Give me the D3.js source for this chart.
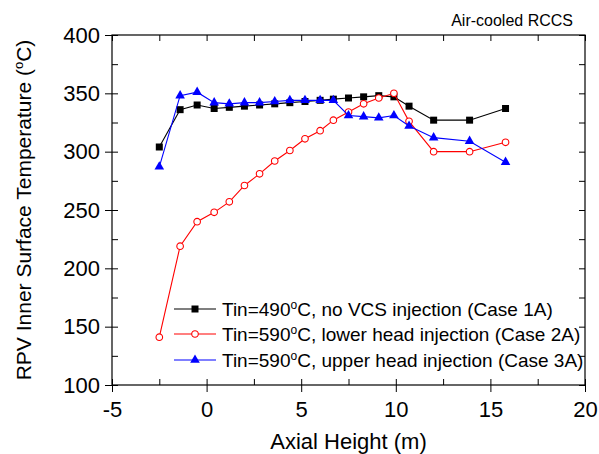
<!DOCTYPE html>
<html>
<head>
<meta charset="utf-8">
<script src="https://cdn.jsdelivr.net/npm/d3@7"></script>
<style>
	body { margin: 0; background: #fff; }
	svg { display: block; font-family: "Liberation Sans", Arial, sans-serif; }
</style>
</head>
<body>
<div id="chart"></div>
<script>
// axial positions (m), shared by all three cases
var heights = [-2.5, -1.4, -0.5, 0.4, 1.2, 2.0, 2.8, 3.6, 4.4, 5.2, 6.0, 6.7, 7.5, 8.3, 9.1, 9.9, 10.7, 12.0, 13.9, 15.8];

// RPV inner surface temperature (C)
var case1A = [304, 336, 340, 337, 338, 339, 340, 341, 342, 343, 344, 345, 346, 347, 348, 347, 339, 327, 327, 337];
var case2A = [141, 219, 240, 248, 257, 271, 281, 292, 301, 311, 318, 327, 334, 341, 346, 350, 326, 300, 300, 308];
var case3A = [287, 348, 351, 342, 341, 342, 342, 343, 344, 344, 344, 344, 331, 330, 329, 331, 322, 312, 309, 291];

var xMajor = [-5, 0, 5, 10, 15, 20];
var xMinor = [-5, -2.5, 0, 2.5, 5, 7.5, 10, 12.5, 15, 17.5, 20];
var yMajor = [100, 150, 200, 250, 300, 350, 400];
var yMinor = [100, 125, 150, 175, 200, 225, 250, 275, 300, 325, 350, 375, 400];

var seriesNames = ["no VCS injection (Case 1A)", "lower head injection (Case 2A)", "upper head injection (Case 3A)"];
var seriesTin = ["490", "590", "590"];

var width = 599, height = 454;
var mLeft = 112, mRight = 585, mTop = 35, mBottom = 385;

var x = d3.scaleLinear().domain([-5, 20]).range([mLeft, mRight]);
var y = d3.scaleLinear().domain([100, 400]).range([mBottom, mTop]);

var svg = d3.select("#chart").append("svg")
	.attr("width", width)
	.attr("height", height);

function plain(d) { return String(d); }

function styleAxis(g) {
	g.select(".domain").remove();
	g.selectAll("line").attr("stroke", "#000").attr("stroke-width", 1);
	g.selectAll("text").attr("fill", "#000").style("font-size", "22px").style("font-family", "'Liberation Sans', Arial, sans-serif");
}

// bottom: outer major ticks with labels, inner ticks every 2.5
svg.append("g")
	.attr("transform", "translate(0," + mBottom + ")")
	.call(d3.axisBottom(x).tickValues(xMajor).tickSize(7).tickPadding(9).tickFormat(plain))
	.call(styleAxis);
svg.append("g")
	.attr("transform", "translate(0," + mBottom + ")")
	.call(d3.axisTop(x).tickValues(xMinor).tickSize(6).tickFormat(""))
	.call(styleAxis);

// top: inner ticks
svg.append("g")
	.attr("transform", "translate(0," + mTop + ")")
	.call(d3.axisBottom(x).tickValues(xMinor).tickSize(6).tickFormat(""))
	.call(styleAxis);

// left
svg.append("g")
	.attr("transform", "translate(" + mLeft + ",0)")
	.call(d3.axisLeft(y).tickValues(yMajor).tickSize(7).tickPadding(5).tickFormat(plain))
	.call(styleAxis);
svg.append("g")
	.attr("transform", "translate(" + mLeft + ",0)")
	.call(d3.axisRight(y).tickValues(yMinor).tickSize(6).tickFormat(""))
	.call(styleAxis);

// right
svg.append("g")
	.attr("transform", "translate(" + mRight + ",0)")
	.call(d3.axisLeft(y).tickValues(yMinor).tickSize(6).tickFormat(""))
	.call(styleAxis);

// frame
svg.append("rect")
	.attr("x", mLeft)
	.attr("y", mTop)
	.attr("width", mRight - mLeft)
	.attr("height", mBottom - mTop)
	.attr("fill", "none")
	.attr("stroke", "#000")
	.attr("stroke-width", 1.2);

// axis titles
svg.append("text")
	.attr("x", (mLeft + mRight) / 2)
	.attr("y", 449)
	.attr("text-anchor", "middle")
	.style("font-size", "22px")
	.text("Axial Height (m)");

var ylab = svg.append("text")
	.attr("transform", "translate(31," + ((mTop + mBottom) / 2) + ") rotate(-90)")
	.attr("text-anchor", "middle")
	.style("font-size", "21px");
ylab.append("tspan").text("RPV Inner Surface Temperature (");
ylab.append("tspan").attr("dy", -8).style("font-size", "13px").text("o");
ylab.append("tspan").attr("dy", 8).text("C)");

svg.append("text")
	.attr("x", 573)
	.attr("y", 26)
	.attr("text-anchor", "end")
	.style("font-size", "16px")
	.text("Air-cooled RCCS");

// series
var series = [
	{ values: case1A, color: "#000000", shape: "square" },
	{ values: case2A, color: "#ff0000", shape: "circle" },
	{ values: case3A, color: "#0000ff", shape: "triangle" }
];

var line = d3.line()
	.x(function(d) { return x(d[0]); })
	.y(function(d) { return y(d[1]); });

function drawMarker(sel, shape, color) {
	if (shape == "square") {
		sel.append("path")
			.attr("d", d3.symbol().type(d3.symbolSquare).size(49))
			.attr("fill", color);
	} else if (shape == "circle") {
		sel.append("circle")
			.attr("r", 3.3)
			.attr("fill", "#fff")
			.attr("stroke", color)
			.attr("stroke-width", 1.1);
	} else {
		sel.append("path")
			.attr("d", d3.symbol().type(d3.symbolTriangle).size(40))
			.attr("fill", color);
	}
}

series.forEach(function(s) {
	var pts = heights.map(function(h, i) { return [h, s.values[i]]; });
	var g = svg.append("g");
	g.append("path")
		.datum(pts)
		.attr("d", line)
		.attr("fill", "none")
		.attr("stroke", s.color)
		.attr("stroke-width", 1.1);
	var m = g.selectAll("g.pt")
		.data(pts)
		.enter().append("g")
			.attr("class", "pt")
			.attr("transform", function(d) { return "translate(" + x(d[0]) + "," + y(d[1]) + ")"; });
	drawMarker(m, s.shape, s.color);
});

// legend
var legY = [309, 334, 360];
series.forEach(function(s, i) {
	var g = svg.append("g").attr("transform", "translate(0," + legY[i] + ")");
	g.append("line")
		.attr("x1", 174).attr("x2", 216)
		.attr("stroke", s.color)
		.attr("stroke-width", 1.1);
	var m = g.append("g").attr("transform", "translate(195,0)");
	drawMarker(m, s.shape, s.color);
	var t = g.append("text")
		.attr("x", 222)
		.attr("y", 6.5)
		.style("font-size", "19px");
	t.append("tspan").text("Tin=" + seriesTin[i]);
	t.append("tspan").attr("dy", -7).style("font-size", "12px").text("o");
	t.append("tspan").attr("dy", 7).text("C, " + seriesNames[i]);
});
</script>
</body>
</html>
